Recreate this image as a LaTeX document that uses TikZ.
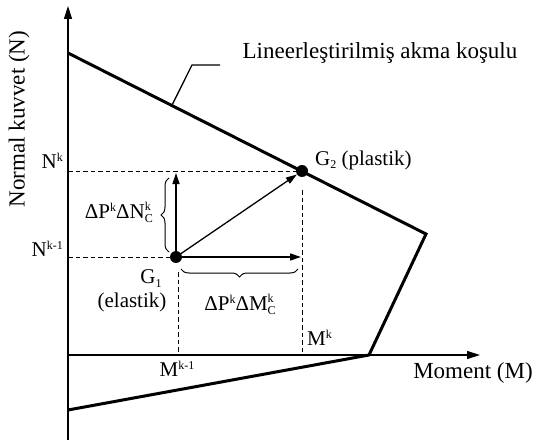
\documentclass[tikz,border=0pt]{standalone}
\usepackage{fontspec}
\setmainfont{Liberation Serif}
\usetikzlibrary{arrows.meta,decorations.pathreplacing,calc}
\newcommand\ssc[1]{{\fontsize{12}{14}\selectfont #1}}
\newcommand\supk[1]{#1\raisebox{7pt}{\ssc{k}}}
\newcommand\supsub[3]{#1\makebox[0pt][l]{\raisebox{8pt}{\ssc{#2}}}\raisebox{-4pt}{\ssc{#3}}}
\begin{document}
\begin{tikzpicture}[x=1pt,y=-1pt,
  axis/.style={line width=1.4pt,-{Triangle[length=13pt,width=8pt]}},
  yieldline/.style={line width=3pt,line join=miter},
  vec/.style={line width=1.3pt,-{Triangle[length=11pt,width=7pt]}},
  guide/.style={line width=1pt,dash pattern=on 4.5pt off 3pt},
  bracestyle/.style={line width=1pt,decorate,decoration={brace,amplitude=8pt}},
  dot/.style={circle,fill=black,inner sep=0pt,minimum size=12pt},
  lbl/.style={font=\fontsize{21}{25}\selectfont,inner sep=1pt},
  biglbl/.style={font=\fontsize{23}{27}\selectfont,inner sep=1pt}]
\useasboundingbox (0,0) rectangle (536,444);
% axes
\coordinate (O) at (68,355);
\coordinate (ybot) at (68,440);
\coordinate (ytop) at (68,6);
\coordinate (xend) at (480,355);
\draw[axis] (ybot) -- (ytop);
\draw[axis] (68,355) -- (xend);
% yield polygon
\coordinate (P1) at (68,53);
\coordinate (P2) at (426,234);
\coordinate (P3) at (369,355);
\coordinate (P4) at (68,410);
\draw[yieldline] (P1) -- (P2) -- (P3) -- (P4);
% points
\node[dot] (G1) at (176,257) {};
\node[dot] (G2) at (302,171) {};
% dashed guides
\coordinate (Nk) at (68,171);
\coordinate (Nk1) at (68,257);
\coordinate (Mk1top) at (178,272);
\coordinate (Mk1bot) at (178,355);
\coordinate (Mktop) at (302,190);
\coordinate (Mkbot) at (302,355);
\draw[guide] (Nk) -- (G2);
\draw[guide] (Nk1) -- (G1);
\draw[guide] (Mk1top) -- (Mk1bot);
\draw[guide] (Mktop) -- (Mkbot);
% vectors
\coordinate (Vup) at (176,173);
\coordinate (Vright) at (301,257);
\draw[vec] (G1.center) -- (Vup);
\draw[vec] (G1.center) -- (Vright);
\draw[vec] (G1.center) -- (G2);
% braces
\coordinate (B1a) at (169,252);
\coordinate (B1b) at (169,178);
\draw[bracestyle] (B1a) -- (B1b);
\coordinate (B2a) at (298,269);
\coordinate (B2b) at (181,269);
\draw[bracestyle] (B2a) -- (B2b);
% leader
\coordinate (L0) at ($(P1)!0.29!(P2)$);
\coordinate (L1) at (192,65);
\coordinate (L2) at (220,65);
\draw[line width=1.3pt] (L0) -- (L1) -- (L2);
% labels
\node[biglbl] (tlin) at (380,53) {Lineerleştirilmiş akma koşulu};
\node[biglbl] (tmom) at (473,373) {Moment (M)};
\node[biglbl,rotate=90] (tnorm) at (19,119) {Normal kuvvet (N)};
\node[lbl,anchor=east] (tNk) at (64,161) {\supk{N}};
\node[lbl,anchor=east] (tNk1) at (64,249) {N\raisebox{7pt}{\ssc{k-1}}};
\node[lbl] (tMk1) at (177,369) {M\raisebox{7pt}{\ssc{k-1}}};
\node[lbl,anchor=west] (tMk) at (306,338) {\supk{M}};
\node[lbl] (tG1) at (151,279) {G\raisebox{-4pt}{\ssc{1}}};
\node[lbl] (tel) at (132,302) {(elastik)};
\node[lbl,anchor=west] (tG2) at (314,160) {G\raisebox{-3pt}{\ssc{2}} (plastik)};
\node[lbl] (tdM) at (240,304) {Δ\supk{P}Δ\supsub{M}{k}{C}};
\node[lbl,anchor=east] (tdN) at (154,212) {Δ\supk{P}Δ\supsub{N}{k}{C}};
\end{tikzpicture}
\end{document}
